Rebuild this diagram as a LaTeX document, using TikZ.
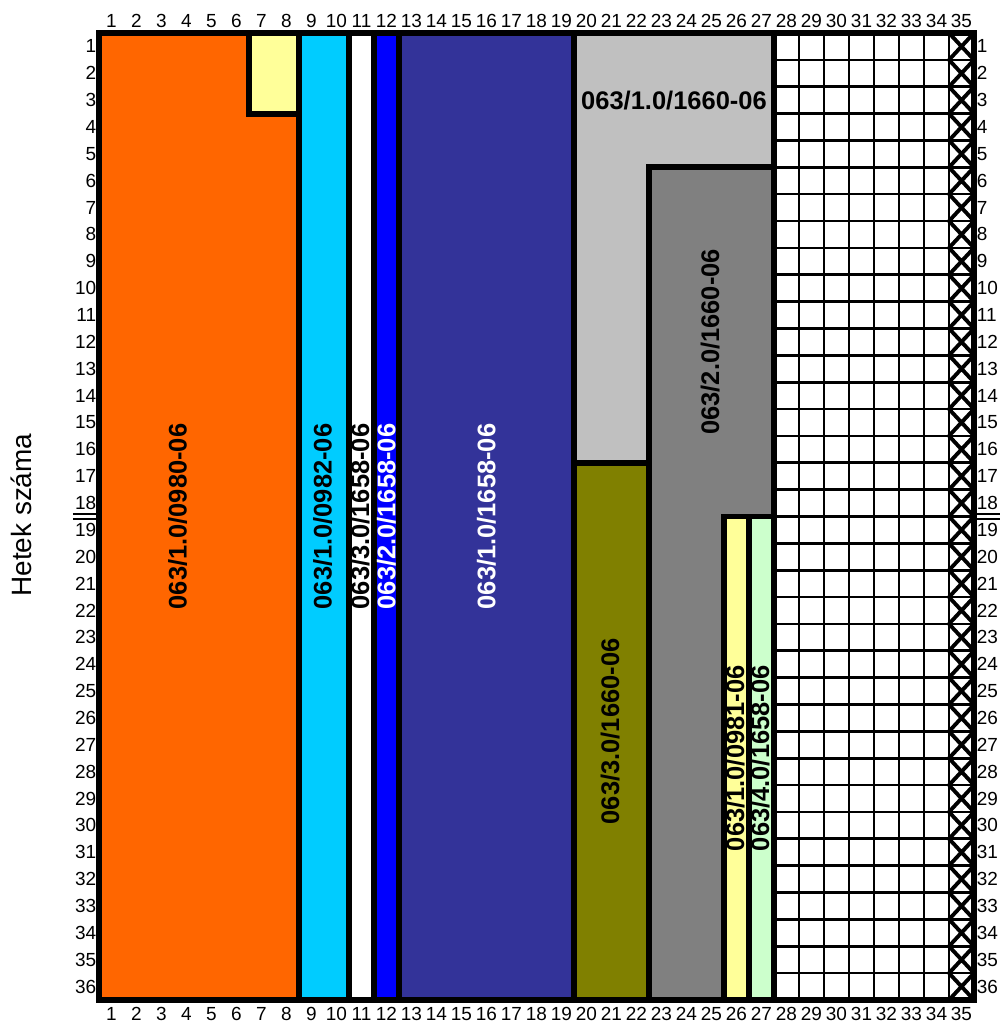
\documentclass[tikz,border=0pt]{standalone}
\usepackage{fontspec}
\setmainfont{Liberation Sans}
\usepackage{tikz}
\definecolor{hkorange}{HTML}{FF6600}
\definecolor{hkyellow}{HTML}{FFFF99}
\definecolor{hkcyan}{HTML}{00CCFF}
\definecolor{hkblue}{HTML}{0000FF}
\definecolor{hkindigo}{HTML}{333399}
\definecolor{hksilver}{HTML}{C0C0C0}
\definecolor{hkolive}{HTML}{808000}
\definecolor{hkgray}{HTML}{808080}
\definecolor{hkgreen}{HTML}{CCFFCC}
\tikzset{
  blokk/.style={draw=black,line width=3.4pt,line join=miter},
  racs/.style={draw=black,line width=1.5pt},
  kereszt/.style={draw=black,line width=2.2pt},
  valaszto/.style={draw=black,line width=1.1pt},
  cimke/.style={font=\fontsize{14.5}{16}\selectfont\bfseries,inner sep=0pt},
  fcimke/.style={cimke,rotate=90},
  szam/.style={font=\fontsize{10.8}{12}\selectfont,inner sep=0pt},
}

\begin{document}
\begin{tikzpicture}[x=0.5cm,y=-0.5372cm]
  \useasboundingbox (-3.96,-1.2286) rectangle (36.04,36.895);
  \fill[white] (-3.96,-1.2286) rectangle (36.04,36.895);
  % free weeks grid
  \foreach \c in {28,...,34} \draw[racs] (\c,0) -- (\c,36);
  \foreach \r in {1,...,35} \draw[racs] (27,\r) -- (35,\r);
  \foreach \r in {1,...,36} \draw[kereszt] (34,\r-1) -- (35,\r) (34,\r) -- (35,\r-1);
  % blocks
  \filldraw[blokk,fill=hkorange] (0,0) -- (6,0) -- (6,3) -- (8,3) -- (8,36) -- (0,36) -- cycle;
  \filldraw[blokk,fill=hkyellow] (6,0) rectangle (8,3);
  \filldraw[blokk,fill=hkcyan] (8,0) rectangle (10,36);
  \filldraw[blokk,fill=white] (10,0) rectangle (11,36);
  \filldraw[blokk,fill=hkblue] (11,0) rectangle (12,36);
  \filldraw[blokk,fill=hkindigo] (12,0) rectangle (19,36);
  \filldraw[blokk,fill=hksilver] (19,0) -- (27,0) -- (27,5) -- (22,5) -- (22,16) -- (19,16) -- cycle;
  \filldraw[blokk,fill=hkolive] (19,16) rectangle (22,36);
  \filldraw[blokk,fill=hkgray] (22,5) rectangle (27,36);
  \filldraw[blokk,fill=hkyellow] (25,18) rectangle (26,36);
  \filldraw[blokk,fill=hkgreen] (26,18) rectangle (27,36);
  \draw[blokk] (27,0) -- (27,36);
  \draw[blokk] (0,0) rectangle (35,36);
  % half-year marks
  \draw[valaszto] (-1.04,17.9) -- (0,17.9) (-1.04,18.1) -- (0,18.1);
  \draw[valaszto] (35,17.9) -- (36.04,17.9) (35,18.1) -- (36.04,18.1);
  % labels
  \node[fcimke] (l0980) at (3.15,18) {063/1.0/0980-06};
  \node[fcimke] (l0982) at (8.95,18) {063/1.0/0982-06};
  \node[fcimke] (l1658c) at (10.45,18) {063/3.0/1658-06};
  \node[fcimke,text=white] (l1658b) at (11.5,18) {063/2.0/1658-06};
  \node[fcimke,text=white] (l1658a) at (15.5,18) {063/1.0/1658-06};
  \node[cimke] (l1660a) at (23,2.5) {063/1.0/1660-06};
  \node[fcimke] (l1660b) at (24.45,11.5) {063/2.0/1660-06};
  \node[fcimke] (l1660c) at (20.45,26) {063/3.0/1660-06};
  \node[fcimke] (l0981) at (25.45,27) {063/1.0/0981-06};
  \node[fcimke] (l1658d) at (26.45,27) {063/4.0/1658-06};
  % axes
  \foreach \c in {1,...,35} {
    \node[szam] (fent\c) at (\c-0.5,-0.45) {\c};
    \node[szam] (lent\c) at (\c-0.5,36.52) {\c};
  }
  \foreach \r in {1,...,36} {
    \node[szam,anchor=east] (bal\r) at (-0.1,\r-0.5) {\r};
    \node[szam,anchor=west] (jobb\r) at (35.1,\r-0.5) {\r};
  }
  \node[font=\fontsize{15.9}{18}\selectfont,rotate=90,inner sep=0pt] (hetek) at (-3.1,17.95) {Hetek száma};
\end{tikzpicture}
\end{document}
